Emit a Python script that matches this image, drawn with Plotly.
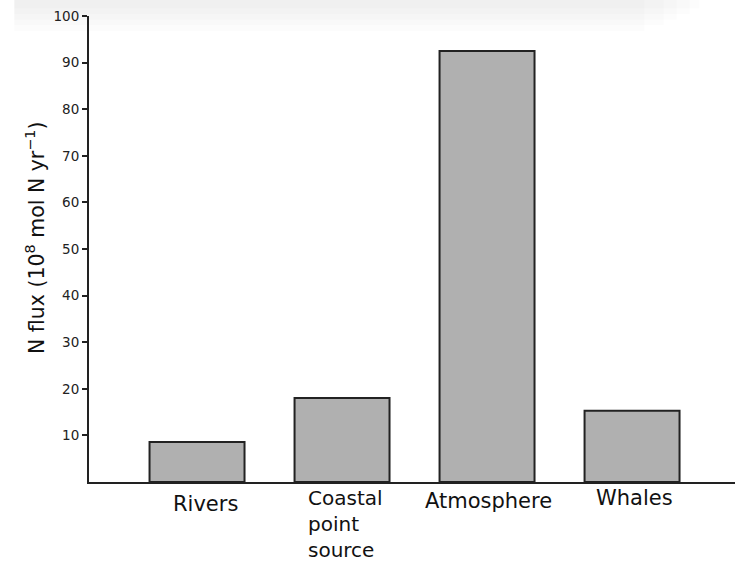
import plotly.graph_objects as go

categories = ["Rivers", "Coastal<br>point<br>source", "Atmosphere", "Whales"]
values = [8.6, 18.0, 92.5, 15.3]
tick_vals = [10, 20, 30, 40, 50, 60, 70, 80, 90, 100]
tick_text = [str(v) for v in tick_vals]
y_title = "N flux (10<sup>8</sup> mol N yr<sup>−1</sup>)"

# small nudges of the category labels (pixels): (x shift, y shift, font size)
label_style = {
    "Rivers": (8, -8, 21),
    "Coastal<br>point<br>source": (3, -2, 20),
    "Atmosphere": (1, -5, 21),
    "Whales": (2, -2, 21),
}

fig = go.Figure()
fig.add_trace(go.Bar(
    x=categories, y=values, width=0.655,
    marker=dict(color="#b0b0b0", line=dict(color="#222222", width=2)),
))

for c in categories:
    dx, dy, fs = label_style[c]
    fig.add_annotation(
        x=c, y=0, xref="x", yref="paper", text=c,
        showarrow=False, yanchor="top", yshift=dy,
        align="left", xshift=dx,
        font=dict(family="DejaVu Sans", size=fs, color="#111111"),
    )

# y-axis title as a rotated annotation
fig.add_annotation(
    x=-0.0836, y=0.5236, xref="paper", yref="paper", text=y_title,
    showarrow=False, textangle=-90, xanchor="center", yanchor="middle",
    font=dict(family="DejaVu Sans", size=20.5, color="#111111"),
)

# faint grey band at the top of the page
for x1, y0 in [(0.86, 0.968), (0.89, 0.98), (0.91, 0.992), (0.93, 1.004), (0.945, 1.016)]:
    fig.add_shape(type="rect", xref="paper", yref="paper",
                  x0=-0.116, x1=x1, y0=y0, y1=1.04, layer="below",
                  line=dict(width=0), fillcolor="rgba(0,0,0,0.01)")

fig.update_layout(
    width=735, height=568,
    margin=dict(l=89, r=0, t=16, b=86, autoexpand=False),
    plot_bgcolor="rgba(0,0,0,0)", paper_bgcolor="white",
    showlegend=False,
    xaxis=dict(
        range=[-0.745, 3.71], showticklabels=False, ticks="",
        showline=True, linecolor="#222222", linewidth=1.5,
        showgrid=False, zeroline=False, fixedrange=True,
    ),
    yaxis=dict(
        range=[0, 100], tickvals=tick_vals, ticktext=tick_text,
        ticks="outside", ticklen=5, tickwidth=1.5, tickcolor="#222222",
        showline=True, linecolor="#222222", linewidth=2,
        showgrid=False, zeroline=False, automargin=False,
        ticklabeloverflow="allow",
        tickfont=dict(family="DejaVu Sans", size=13.5, color="#222222"),
    ),
)

fig.write_html("out.html", config={"displayModeBar": False},
               post_script="document.body.style.margin='0';")
